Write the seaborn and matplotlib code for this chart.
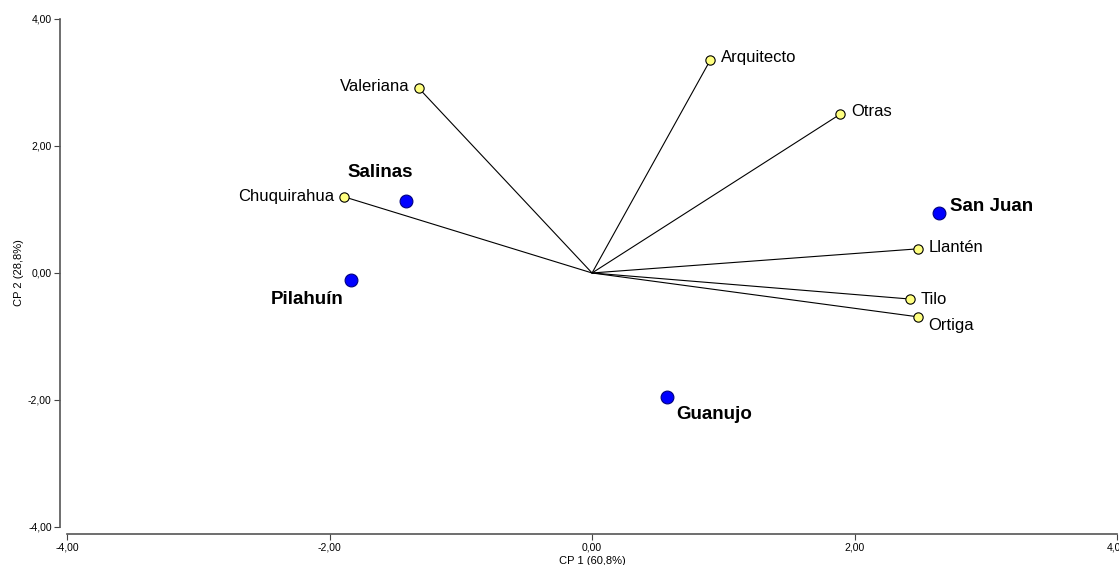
import pandas as pd
import seaborn as sns
import matplotlib
matplotlib.use('Agg')
import matplotlib.pyplot as plt

# sitios (puntos azules)
sitios = ["Salinas", "San Juan", "Pilahuín", "Guanujo"]
sitios_cp1 = [-1.42, 2.64, -1.84, 0.57]
sitios_cp2 = [1.13, 0.94, -0.11, -1.95]

# especies (vectores)
especies = ["Arquitecto", "Otras", "Valeriana", "Chuquirahua", "Llantén", "Tilo", "Ortiga"]
especies_cp1 = [0.90, 1.89, -1.32, -1.89, 2.48, 2.42, 2.48]
especies_cp2 = [3.35, 2.50, 2.91, 1.20, 0.38, -0.41, -0.69]

ticks = [-4, -2, 0, 2, 4]
tick_labels = ["-4,00", "-2,00", "0,00", "2,00", "4,00"]

df_sitios = pd.DataFrame({"sitio": sitios, "cp1": sitios_cp1, "cp2": sitios_cp2})
df_esp = pd.DataFrame({"especie": especies, "cp1": especies_cp1, "cp2": especies_cp2})

sns.set_style("white")
plt.rcParams['font.family'] = ['Liberation Sans', 'DejaVu Sans']
plt.rcParams['text.color'] = 'black'
plt.rcParams['axes.labelcolor'] = 'black'

fig = plt.figure(figsize=(11.19, 5.65), dpi=100)
ax = fig.add_axes([0.0599, 0.0673, 0.9384, 0.8991])

for x, y in zip(df_esp.cp1, df_esp.cp2):
    ax.plot([0, x], [0, y], color="black", lw=0.8, zorder=1)

sns.scatterplot(data=df_esp, x="cp1", y="cp2", ax=ax, color="#FFFF80",
                edgecolor="black", linewidth=0.8, s=45, zorder=3)
sns.scatterplot(data=df_sitios, x="cp1", y="cp2", ax=ax, color="#0000FF",
                edgecolor="#000080", linewidth=0.8, s=85, zorder=3)

# etiquetas de especies: (dx, dy, ha) en puntos
pos_esp = {
    "Arquitecto": (8, 2, "left"),
    "Otras": (8, 2, "left"),
    "Valeriana": (-7, 1, "right"),
    "Chuquirahua": (-7, 0, "right"),
    "Llantén": (8, 1, "left"),
    "Tilo": (8, 0, "left"),
    "Ortiga": (8, -6, "left"),
}
for _, r in df_esp.iterrows():
    dx, dy, ha = pos_esp[r.especie]
    ax.annotate(r.especie, (r.cp1, r.cp2), xytext=(dx, dy), textcoords="offset points",
                ha=ha, va="center", fontsize=12, color="black")

pos_sitio = {
    "Salinas": (-18, 21, "center"),
    "San Juan": (8, 5, "left"),
    "Pilahuín": (-31, -14, "center"),
    "Guanujo": (34, -13, "center"),
}
for _, r in df_sitios.iterrows():
    dx, dy, ha = pos_sitio[r.sitio]
    ax.annotate(r.sitio, (r.cp1, r.cp2), xytext=(dx, dy), textcoords="offset points",
                ha=ha, va="center", fontsize=13.5, fontweight="bold", color="black")

ax.set_xlim(-4, 4)
ax.set_ylim(-4, 4)
ax.set_xticks(ticks)
ax.set_xticklabels(tick_labels)
ax.set_yticks(ticks)
ax.set_yticklabels(tick_labels)
ax.tick_params(axis="both", direction="out", length=4, width=0.8, labelsize=7.5,
               colors="#444444", labelcolor="black", pad=2, bottom=True, left=True)
ax.set_xlabel("CP 1 (60,8%)", fontsize=8, labelpad=3)
ax.set_ylabel("CP 2 (28,8%)", fontsize=8, labelpad=3)

sns.despine(ax=ax, offset=5)
for s in ["left", "bottom"]:
    ax.spines[s].set_color("#555555")
    ax.spines[s].set_linewidth(1.2)

fig.savefig("out.png", dpi=100)
